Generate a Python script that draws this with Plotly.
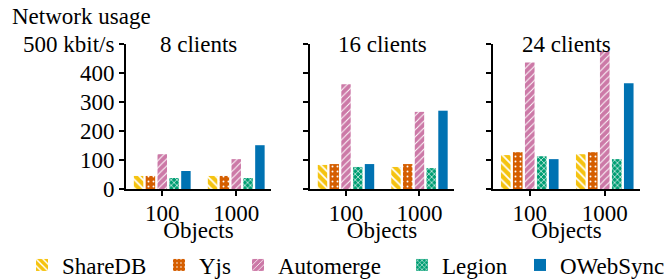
import plotly.graph_objects as go

# ---- data ----
objects = ["100", "1000"]
panels = ["8 clients", "16 clients", "24 clients"]
systems = ["ShareDB", "Yjs", "Automerge", "Legion", "OWebSync"]

# network usage (kbit/s) per panel, per object count
sharedb = [[45, 45], [83, 76], [117, 120]]
yjs = [[45, 45], [86, 86], [127, 127]]
automerge = [[120, 103], [361, 266], [436, 475]]
legion = [[38, 38], [76, 72], [113, 103]]
owebsync = [[62, 151], [86, 270], [103, 365]]

y_tickvals = [0, 100, 200, 300, 400, 500]
y_ticktext = ["0", "100", "200", "300", "400", "500 kbit/s"]

series = [sharedb, yjs, automerge, legion, owebsync]
colors = ["#F5C310", "#D55E00", "#CC79A7", "#009E73", "#0072B2"]
patterns = [
    dict(shape="\\", size=6, solidity=0.3),
    dict(shape=".", size=5, solidity=0.12),
    dict(shape="/", size=5, solidity=0.2),
    dict(shape="x", size=4, solidity=0.3),
    dict(shape="", size=6, solidity=0.3),
]
# legend text start positions (px from left)
legend_text_x = [62, 199, 278, 442, 560]

FONT = "'Liberation Serif', 'DejaVu Serif', 'Times New Roman', serif"
FS = 23

fig = go.Figure()
for p in range(len(panels)):
    ax = "" if p == 0 else str(p + 1)
    for s, name in enumerate(systems):
        pat = dict(patterns[s])
        pat.update(fgcolor="white", bgcolor=colors[s], fillmode="replace")
        fig.add_trace(go.Bar(
            x=objects, y=series[s][p], name=name,
            xaxis="x" + ax, yaxis="y" + ax,
            legend="legend" if s == 0 else "legend" + str(s + 1),
            legendgroup=name, showlegend=(p == 0),
            marker=dict(color=colors[s], pattern=pat, line=dict(width=0)),
        ))

W, H = 672, 280
ml, mr, mt, mb = 126, 32, 44, 91
pw = W - ml - mr
ph = H - mt - mb
px_domains = [(126, 271), (310, 454), (493, 640)]
domains = [((a - ml) / pw, (b - ml) / pw) for a, b in px_domains]

txt_font = dict(family=FONT, size=FS, color="black")
axis_common = dict(showline=True, linecolor="black", linewidth=2,
                   ticks="outside", ticklen=5, tickwidth=2, tickcolor="black",
                   showgrid=False, zeroline=False, tickfont=txt_font)

layout = dict(
    width=W, height=H,
    margin=dict(l=ml, r=mr, t=mt, b=mb, autoexpand=False),
    paper_bgcolor="white", plot_bgcolor="white",
    font=txt_font,
    barmode="group", bargap=0.2, bargroupgap=0.2,
    showlegend=True,
)
for s in range(len(systems)):
    key = "legend" if s == 0 else "legend" + str(s + 1)
    layout[key] = dict(orientation="h", xref="container", yref="container",
                       x=(legend_text_x[s] - 40) / W, xanchor="left",
                       y=(H - 265) / H, yanchor="middle",
                       font=txt_font,
                       bgcolor="rgba(0,0,0,0)", borderwidth=0)
annotations = []
for p, title in enumerate(panels):
    ax = "" if p == 0 else str(p + 1)
    layout["xaxis" + ax] = dict(
        axis_common, domain=list(domains[p]), anchor="y" + ax,
        type="category", range=[-0.49, 1.47],
        ticklabelstandoff=-3,
        title=dict(text="Objects", standoff=0, font=txt_font),
    )
    layout["yaxis" + ax] = dict(
        axis_common, anchor="x" + ax, range=[0, 500],
        tickvals=y_tickvals, ticktext=y_ticktext,
        showticklabels=(p == 0),
    )
    annotations.append(dict(
        text=title, xref="paper", yref="paper",
        x=(domains[p][0] + domains[p][1]) / 2, y=1, xanchor="center",
        yanchor="middle", showarrow=False, font=txt_font))
annotations.append(dict(
    text="Network usage", xref="paper", yref="paper",
    x=(10 - ml) / pw, y=1 + (mt - 16) / ph, xanchor="left", yanchor="middle",
    showarrow=False, font=txt_font))
layout["annotations"] = annotations
fig.update_layout(**layout)

fig.write_html("out.html",
               config={"displayModeBar": False},
               post_script="document.body.style.margin='0';"
                           "document.body.style.overflow='hidden';")
